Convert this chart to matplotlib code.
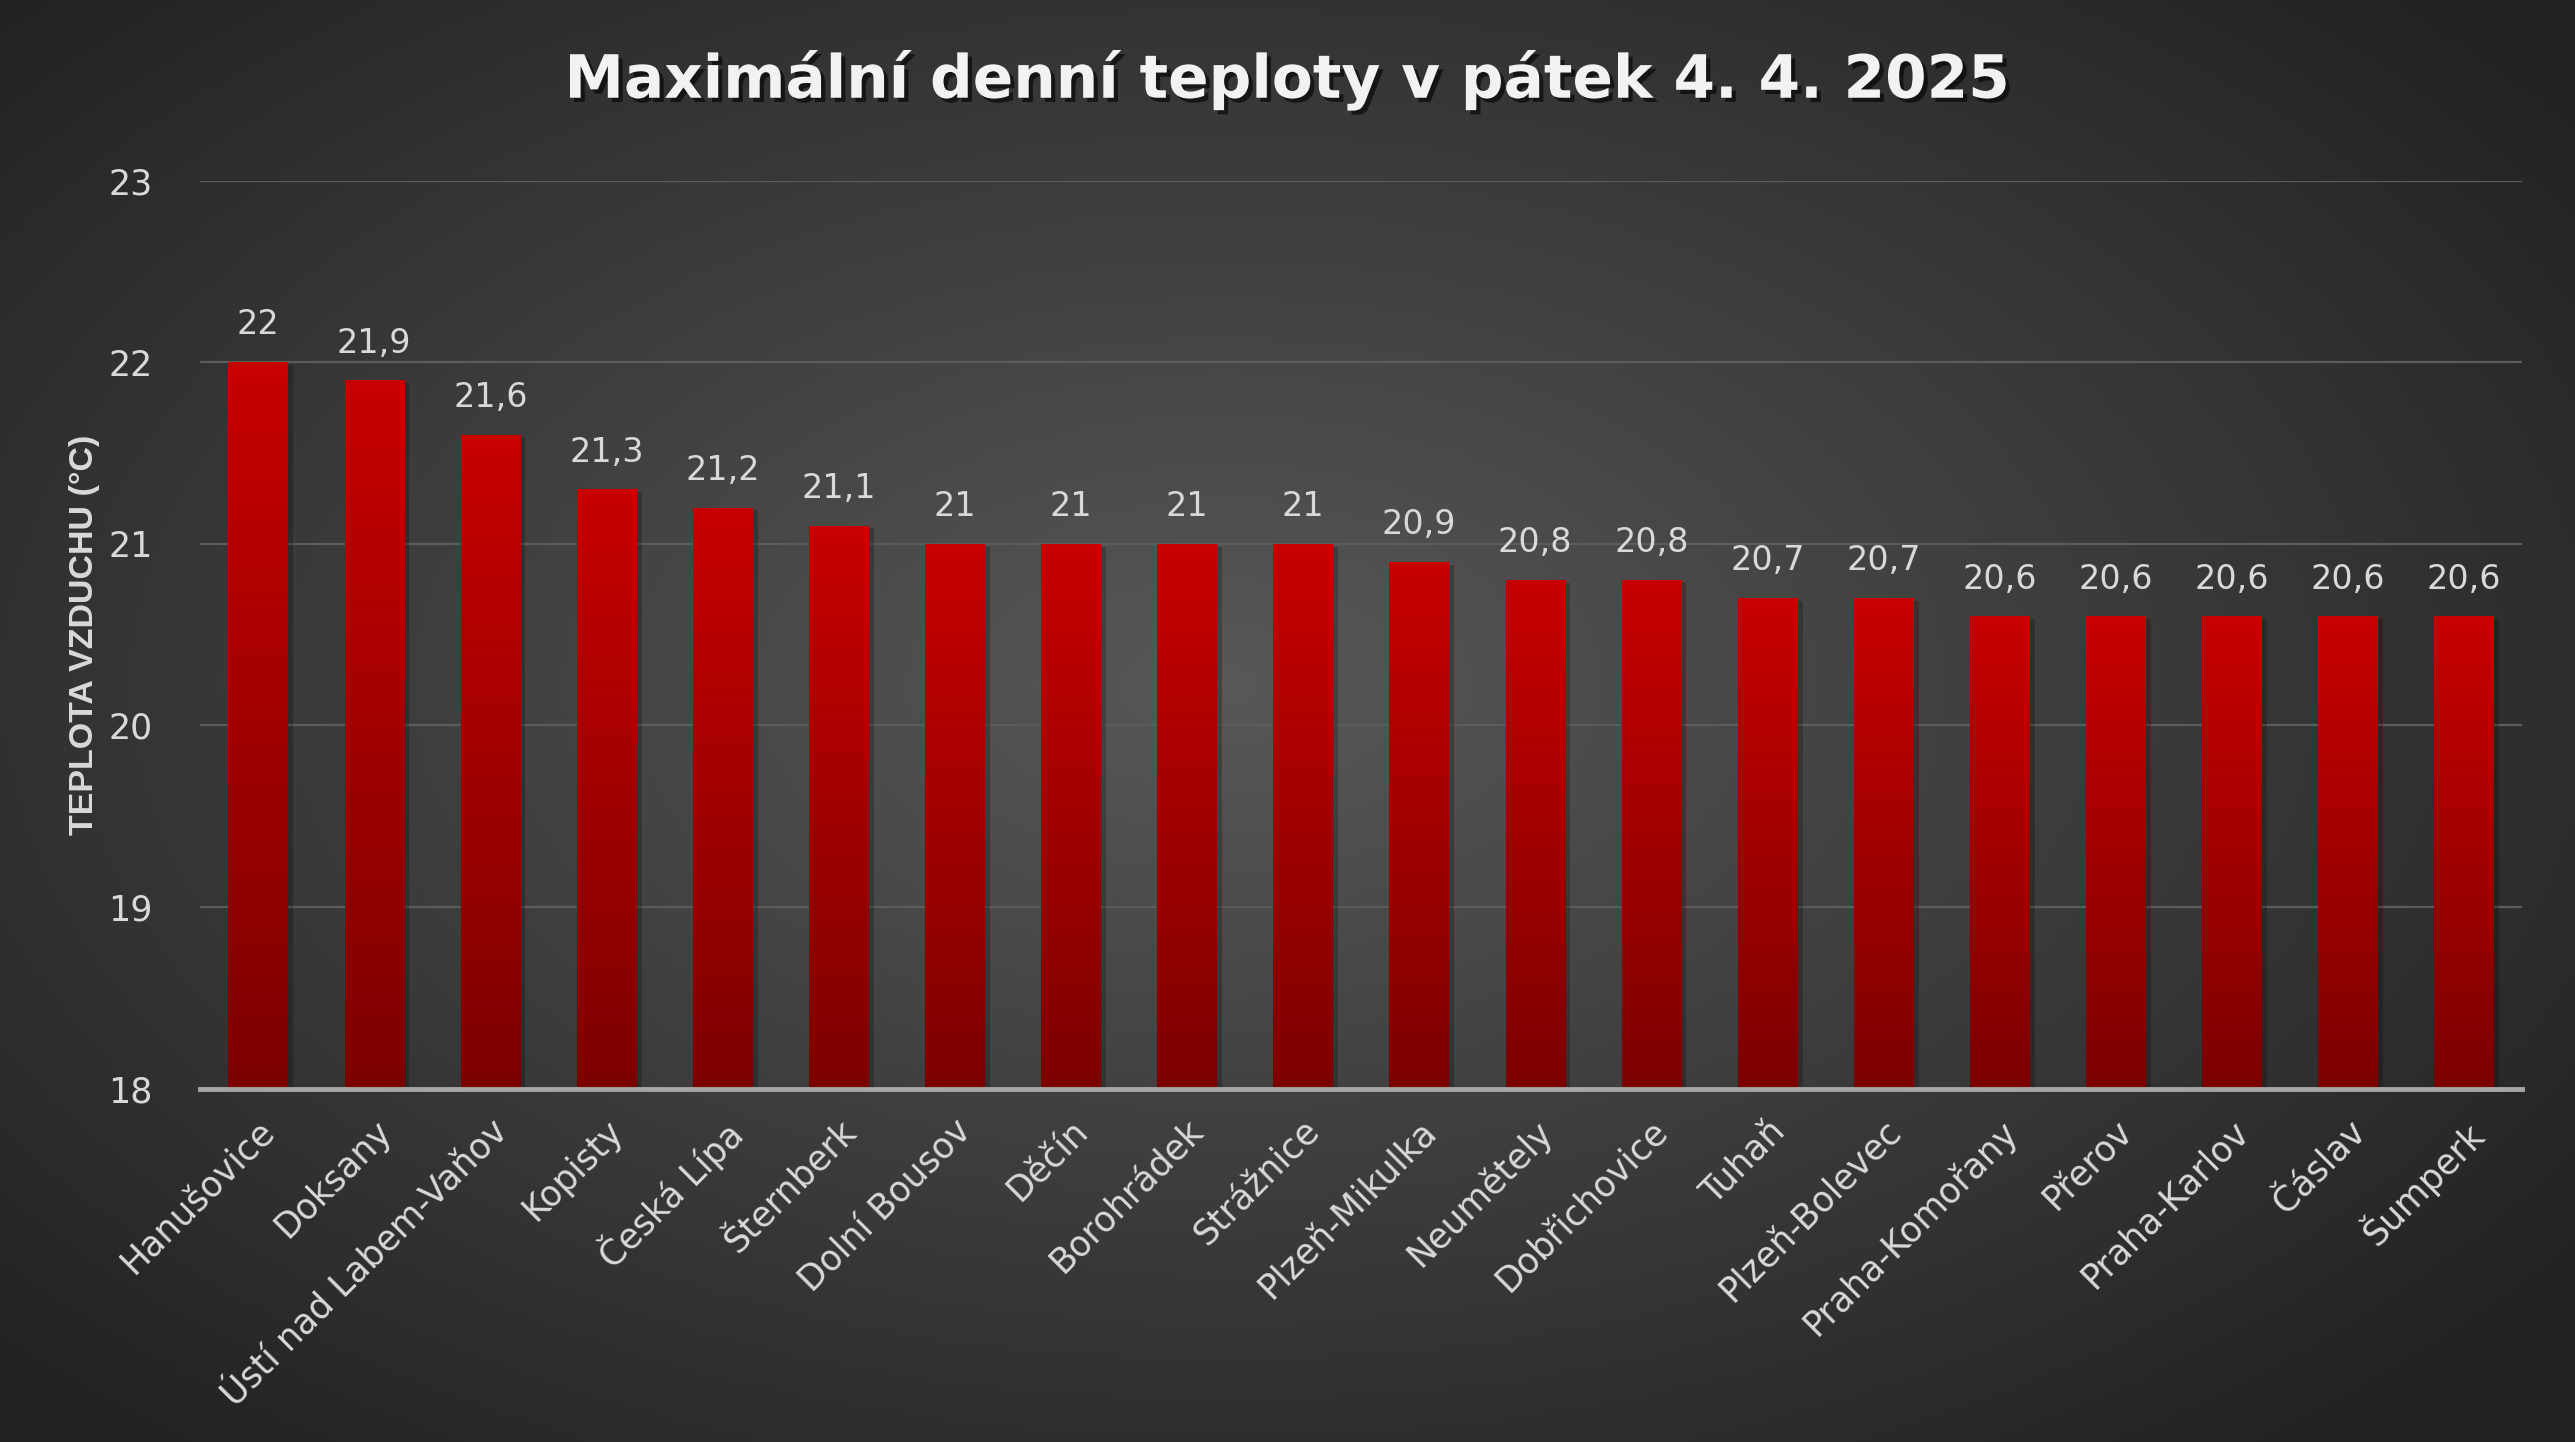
import numpy as np
import matplotlib.pyplot as plt
import matplotlib.patheffects as pe
from matplotlib.colors import LinearSegmentedColormap

# Data
stanice = ["Hanušovice", "Doksany", "Ústí nad Labem-Vaňov", "Kopisty", "Česká Lípa",
           "Šternberk", "Dolní Bousov", "Děčín", "Borohrádek", "Strážnice",
           "Plzeň-Mikulka", "Neumětely", "Dobřichovice", "Tuhaň", "Plzeň-Bolevec",
           "Praha-Komořany", "Přerov", "Praha-Karlov", "Čáslav", "Šumperk"]
teploty = [22, 21.9, 21.6, 21.3, 21.2, 21.1, 21, 21, 21, 21,
           20.9, 20.8, 20.8, 20.7, 20.7, 20.6, 20.6, 20.6, 20.6, 20.6]
y_ticks = [18, 19, 20, 21, 22, 23]

title = "Maximální denní teploty v pátek 4. 4. 2025"
ylabel = "TEPLOTA VZDUCHU (°C)"

W, H = 2575, 1442
fig = plt.figure(figsize=(W / 100, H / 100), dpi=100)

# background: radial grey gradient
bg = fig.add_axes([0, 0, 1, 1], zorder=0)
yy, xx = np.mgrid[-1:1:300j, -1:1:540j]
r = np.sqrt(((xx + 0.05) / 1.05) ** 2 + ((yy + 0.05) / 1.1) ** 2)
val = np.clip(1 - r / 1.25, 0, 1)
bg_cmap = LinearSegmentedColormap.from_list("bg", ["#222222", "#585858"])
bg.imshow(val, cmap=bg_cmap, aspect="auto", extent=[0, 1, 0, 1])
bg.axis("off")

# main axes
left, right = 200 / W, 2522 / W
bottom, top = 1 - 1088.7 / H, 1 - 180.6 / H
ax = fig.add_axes([left, bottom, right - left, top - bottom], zorder=1)
ax.patch.set_alpha(0)

x = np.arange(len(stanice))
bar_cmap = LinearSegmentedColormap.from_list("bar", ["#7c0000", "#c80000"])
grad = np.linspace(0, 1, 256).reshape(-1, 1)

bars = ax.bar(x, np.array(teploty) - 18, bottom=18, width=0.51, color="#a00000",
              zorder=2)
for b in bars:
    b.set_path_effects([pe.SimplePatchShadow(offset=(4, -2), shadow_rgbFace="black",
                                             alpha=0.22), pe.Normal()])
    x0, w, h = b.get_x(), b.get_width(), b.get_y() + b.get_height()
    im = ax.imshow(grad, cmap=bar_cmap, origin="lower", aspect="auto",
                   extent=[x0, x0 + w, 18, h], zorder=3)
    im.set_clip_path(b)

for xi, v in zip(x, teploty):
    ax.annotate(f"{v:g}".replace(".", ","), (xi, v), xytext=(0, 15),
                textcoords="offset points", ha="center", va="bottom",
                fontsize=24, color="#d9d9d9")

ax.set_xlim(-0.5, len(stanice) - 0.5)
ax.set_ylim(18, 23)
ax.set_yticks(y_ticks)
ax.set_yticklabels([str(t) for t in y_ticks], fontsize=25, color="#d9d9d9")
ax.set_xticks(x)
ax.set_xticklabels(stanice, rotation=45, ha="right", va="top", rotation_mode="anchor",
                   fontsize=25, color="#d9d9d9")
ax.tick_params(axis="both", length=0)
ax.tick_params(axis="y", pad=34)
ax.tick_params(axis="x", pad=18)

ax.yaxis.grid(True, color="#5c5c5c", linewidth=1.6)
ax.set_axisbelow(True)
for s in ["left", "right", "top"]:
    ax.spines[s].set_visible(False)
ax.spines["bottom"].set_color("#a6a6a6")
ax.spines["bottom"].set_linewidth(3.5)
ax.spines["bottom"].set_zorder(4)

fig.text(85 / W, 0.5 + (H / 2 - 634.7) / H, ylabel, rotation=90, ha="center",
         va="center", fontsize=24.5, fontweight="bold", color="#d9d9d9",
         family="Liberation Sans")

fig.text(0.5, 1 - 80 / H, title, ha="center", va="center", fontsize=43,
         fontweight="bold", color="#f2f2f2", family="DejaVu Sans",
         path_effects=[pe.SimplePatchShadow(offset=(3, -3), shadow_rgbFace="black",
                                            alpha=0.6), pe.Normal()])

fig.savefig("out.png", dpi=100)
